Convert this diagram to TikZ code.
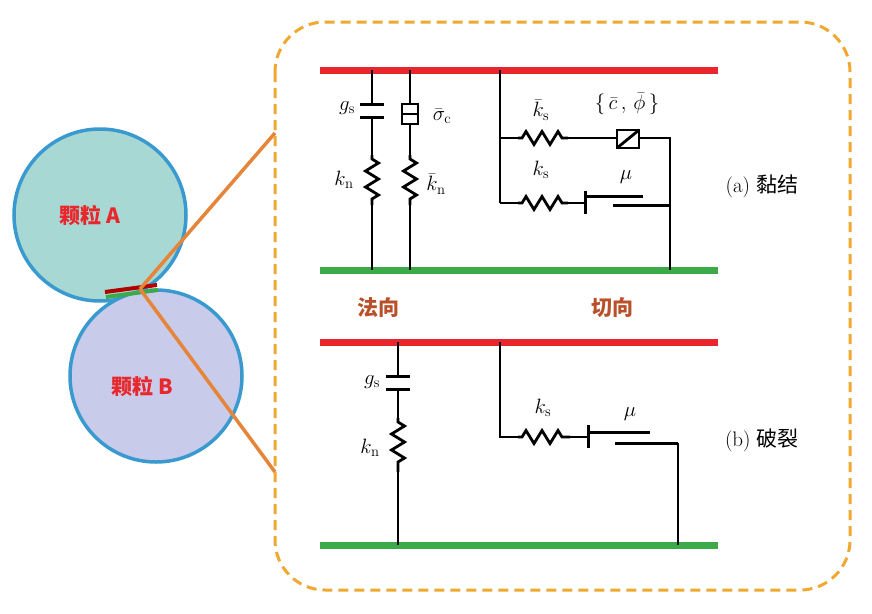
\documentclass[tikz,border=0pt]{standalone}
\usepackage{fontspec}
\newfontfamily\cjk{Noto Sans CJK SC}
\usetikzlibrary{decorations.pathmorphing}
\definecolor{cred}{HTML}{E8262B}
\definecolor{cgreen}{HTML}{3CAA48}
\definecolor{corange}{HTML}{E6843A}
\definecolor{cdash}{HTML}{F0A830}
\definecolor{cbrown}{HTML}{B8502A}
\definecolor{cblue}{HTML}{3A9AD0}
\definecolor{cfa}{HTML}{A8D8D4}
\definecolor{cfb}{HTML}{C8CCEA}
\begin{document}
\begin{tikzpicture}[x=1pt,y=-1pt,
 wire/.style={line width=2.8pt,black},
 spring/.style={wire,decorate,decoration={zigzag,segment length=16pt,amplitude=6.5pt,pre length=4pt,post length=4pt}},
 plate/.style={line width=3pt,black},
 redbar/.style={line width=7pt,cred},
 grnbar/.style={line width=7pt,cgreen},
 lab/.style={font=\fontsize{21}{24}\selectfont},
 cn/.style={font=\cjk\fontsize{21}{24}\selectfont\bfseries,text=cbrown}]
\useasboundingbox (0,0) rectangle (872,613);
% particles
\node[circle,draw=cblue,line width=3.5pt,fill=cfa,minimum size=172pt] (A) at (100,215) {};
\node[circle,draw=cblue,line width=3.5pt,fill=cfb,minimum size=172pt] (B) at (156,376) {};
\node[text=cred,font=\cjk\fontsize{21}{24}\selectfont\bfseries] (tA) at (90,215) {颗粒 \textbf{A}};
\node[text=cred,font=\cjk\fontsize{21}{24}\selectfont\bfseries] (tB) at (142,386) {颗粒 \textbf{B}};
\draw[line width=4pt,cgreen] (106,297) -- (158,290);
\draw[line width=4pt,red!70!black] (105,292) -- (157,285);
\coordinate (c0) at (140,289);
\coordinate (c1) at (275,133);
\coordinate (c2) at (275,472);
\draw[corange,line width=3.5pt] (c0) -- (c1);
\draw[corange,line width=3.5pt] (c0) -- (c2);
% dashed box
\draw[cdash,line width=3pt,dash pattern=on 10pt off 6pt,rounded corners=50pt] (275,22) rectangle (850,590);
% ===== top (a)
\draw[redbar] (320,70) -- (718,70);
\draw[grnbar] (320,270) -- (718,270);
\draw[wire] (372,70) -- (372,104) (372,117) -- (372,155);
\draw[plate] (360,104) -- (384,104) (360,117) -- (384,117);
\draw[spring] (372,155) -- (372,205);
\draw[wire] (372,205) -- (372,270);
\node[lab] (gs1) at (347,108) {$g_{\mathrm{s}}$};
\node[lab] (kn1) at (344,180) {$k_{\mathrm{n}}$};
\draw[wire] (410,70) -- (410,104) (410,124) -- (410,155);
\draw[wire,fill=white] (402,104) rectangle (418,124);
\draw[wire] (402,114) -- (418,114);
\draw[spring] (410,155) -- (410,205);
\draw[wire] (410,205) -- (410,270);
\node[lab] (sc) at (442,116) {$\bar{\sigma}_{\mathrm{c}}$};
\node[lab] (kn2) at (436,184) {$\bar{k}_{\mathrm{n}}$};
\draw[wire] (500,70) -- (500,203);
\draw[wire] (500,138) -- (518,138);
\draw[spring] (518,138) -- (568,138);
\draw[wire] (568,138) -- (617,138);
\draw[wire,fill=white] (617,130) rectangle (639,148);
\draw[wire] (617,148) -- (639,130);
\draw[wire] (639,138) -- (670,138) -- (670,270);
\draw[wire] (500,203) -- (518,203);
\draw[spring] (518,203) -- (568,203);
\draw[wire] (568,203) -- (585,203);
\draw[plate] (585,191) -- (585,214);
\draw[plate] (585,196) -- (643,196);
\draw[plate] (613,205) -- (670,205);
\node[lab] (ks1) at (541,110) {$\bar{k}_{\mathrm{s}}$};
\node[lab] (cphi) at (627,104) {$\{\,\bar{c}\,,\,\bar{\phi}\,\}$};
\node[lab] (ks2) at (541,170) {$k_{\mathrm{s}}$};
\node[lab] (mu1) at (626,177) {$\mu$};
\node[font=\fontsize{21}{24}\selectfont] (la) at (762,186) {(a) {\cjk 黏结}};
\node[cn] (fa) at (378,308) {法向};
\node[cn] (qx) at (612,308) {切向};
% ===== bottom (b)
\draw[redbar] (320,342) -- (718,342);
\draw[grnbar] (320,545) -- (718,545);
\draw[wire] (398,342) -- (398,376) (398,389) -- (398,418);
\draw[plate] (386,376) -- (410,376) (386,389) -- (410,389);
\draw[spring] (398,418) -- (398,472);
\draw[wire] (398,472) -- (398,545);
\node[lab] (gs2) at (372,382) {$g_{\mathrm{s}}$};
\node[lab] (kn3) at (370,448) {$k_{\mathrm{n}}$};
\draw[wire] (500,342) -- (500,437) -- (518,437);
\draw[spring] (518,437) -- (570,437);
\draw[wire] (570,437) -- (588,437);
\draw[plate] (588,425) -- (588,448);
\draw[plate] (588,432) -- (650,432);
\draw[plate] (615,443) -- (678,443);
\draw[wire] (678,443) -- (678,545);
\node[lab] (ks3) at (543,408) {$k_{\mathrm{s}}$};
\node[lab] (mu2) at (630,414) {$\mu$};
\node[font=\fontsize{21}{24}\selectfont] (lb) at (762,440) {(b) {\cjk 破裂}};
\end{tikzpicture}
\end{document}
